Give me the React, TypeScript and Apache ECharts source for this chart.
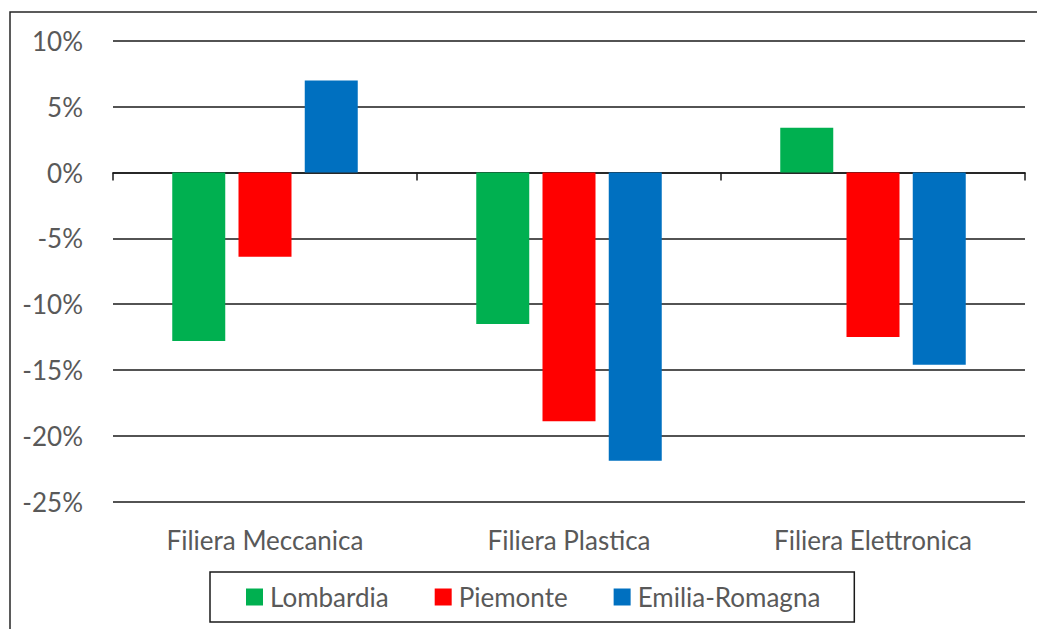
import React, { useEffect, useRef } from "react";
import * as echarts from "echarts";

// Variazione percentuale per filiera e regione
const categories = ["Filiera Meccanica", "Filiera Plastica", "Filiera Elettronica"];
const lombardia = [-12.8, -11.5, 3.4];
const piemonte = [-6.4, -18.9, -12.5];
const emiliaRomagna = [7.0, -21.9, -14.6];

const seriesNames = ["Lombardia", "Piemonte", "Emilia-Romagna"];
const seriesColors = ["#00B050", "#FF0000", "#0070C0"];

const FONT = "Lato, 'Open Sans', sans-serif";
const TEXT_COLOR = "#595959";
const FONT_SIZE = 26;

export default function App() {
  const ref = useRef<HTMLDivElement>(null);

  useEffect(() => {
    if (!ref.current) return;
    const chart = echarts.init(ref.current, null, { renderer: "svg" });
    const values = [lombardia, piemonte, emiliaRomagna];

    chart.setOption({
      animation: false,
      backgroundColor: "#ffffff",
      textStyle: { fontFamily: FONT },
      grid: { left: 113, right: 12, top: 41, bottom: 127.5, containLabel: false },
      graphic: [
        {
          type: "rect",
          shape: { x: 10, y: 12, width: 1040, height: 640 },
          style: { fill: "none", stroke: "#262626", lineWidth: 1.5 },
          silent: true,
        },
      ],
      legend: {
        left: 210,
        top: 572,
        orient: "horizontal",
        icon: "rect",
        itemWidth: 17,
        itemHeight: 17,
        itemGap: 46,
        padding: [12, 34, 12, 36],
        borderColor: "#1a1a1a",
        borderWidth: 1.5,
        textStyle: { fontFamily: FONT, fontSize: FONT_SIZE, color: TEXT_COLOR, padding: [0, 0, 0, 2] },
        data: seriesNames,
      },
      xAxis: [
        {
          type: "category",
          data: categories,
          position: "bottom",
          axisLine: { onZero: true, lineStyle: { color: "#1a1a1a", width: 1.5 } },
          axisTick: { show: true, interval: 0, length: 8, lineStyle: { color: "#1a1a1a", width: 1.5 } },
          axisLabel: { show: false },
          splitLine: { show: false },
        },
        {
          type: "category",
          data: categories,
          position: "bottom",
          axisLine: { show: false, onZero: false },
          axisTick: { show: false },
          axisLabel: {
            show: true,
            margin: 25,
            fontFamily: FONT,
            fontSize: FONT_SIZE,
            color: TEXT_COLOR,
          },
          splitLine: { show: false },
        },
      ],
      yAxis: {
        type: "value",
        min: -25,
        max: 10,
        interval: 5,
        axisLine: { show: false },
        axisTick: { show: false },
        axisLabel: {
          margin: 30,
          fontFamily: FONT,
          fontSize: FONT_SIZE,
          color: TEXT_COLOR,
          formatter: (v: number) => `${v}%`,
        },
        splitLine: { show: true, lineStyle: { color: "#1a1a1a", width: 1.5 } },
      },
      series: seriesNames.map((name, i) => ({
        name,
        type: "bar",
        xAxisIndex: 0,
        data: values[i],
        barWidth: 53,
        barGap: "25%",
        itemStyle: { color: seriesColors[i] },
      })),
    });

    return () => chart.dispose();
  }, []);

  return (
    <div
      ref={ref}
      style={{ position: "fixed", left: 0, top: 0, width: 1037, height: 629, background: "#fff" }}
    />
  );
}
